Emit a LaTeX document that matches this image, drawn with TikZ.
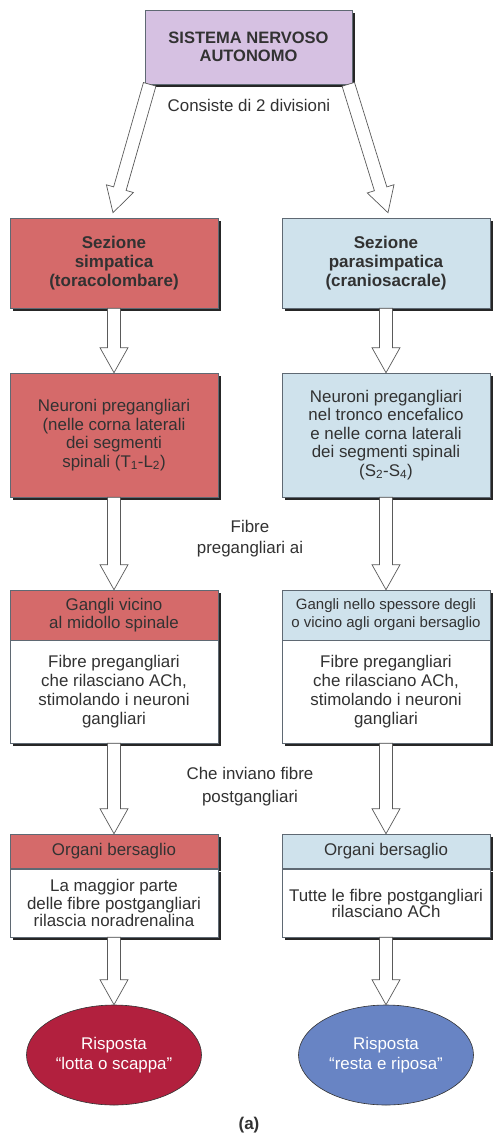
\documentclass[tikz,border=0pt]{standalone}
\usepackage{fontspec}
\setmainfont{Liberation Sans}
\usetikzlibrary{shapes.geometric,shadows,calc}
\definecolor{txt}{RGB}{50,50,50}
\definecolor{lav}{RGB}{214,193,226}
\definecolor{symp}{RGB}{213,106,106}
\definecolor{para}{RGB}{207,226,236}
\definecolor{rossoell}{RGB}{178,32,62}
\definecolor{bluell}{RGB}{104,132,196}
\definecolor{edge}{RGB}{95,105,115}
\definecolor{arredge}{RGB}{90,90,90}
\tikzset{
  basebox/.style={draw=edge, line width=0.6pt, rectangle, minimum width=208pt, inner sep=0pt,
    align=center, text=txt, font=\fontsize{16.9}{18.5}\selectfont,
    drop shadow={shadow xshift=3pt, shadow yshift=-3pt, fill=black!85, opacity=1}},
  topbox/.style={basebox, fill=lav, minimum width=207pt, minimum height=74pt,
    font=\bfseries\fontsize{16.5}{17.5}\selectfont},
  lbox/.style={basebox, fill=symp},
  rbox/.style={basebox, fill=para},
  wbox/.style={basebox, fill=white},
  boldtxt/.style={font=\bfseries\fontsize{17}{19}\selectfont},
  lbl/.style={align=center, text=txt, inner sep=0pt, font=\fontsize{16.9}{21}\selectfont},
  resp/.style={ellipse, draw=black!80, line width=0.6pt, minimum width=175pt, minimum height=100pt,
    align=center, text=white, inner sep=0pt, font=\fontsize{16.9}{20}\selectfont},
  arrline/.style={draw=arredge, line width=0.7pt, fill=white, line join=miter}
}
\newcommand\blockarr[2]{%
  \coordinate (hb) at ($(#2)!25pt!(#1)$);
  \draw[arrline] ($(#1)!6.5pt!90:(#2)$) -- ($(hb)!6.5pt!90:(#2)$) -- ($(hb)!14pt!90:(#2)$)
    -- (#2) -- ($(hb)!14pt!-90:(#2)$) -- ($(hb)!6.5pt!-90:(#2)$) -- ($(#1)!6.5pt!-90:(#2)$) -- cycle;
}
\begin{document}
\begin{tikzpicture}[x=1pt,y=-1pt]
\useasboundingbox (0,0) rectangle (495,1136);
\fill[white] (0,0) rectangle (495,1136);

% top
\node[topbox] (sna) at (248.5,47) {SISTEMA NERVOSO\\AUTONOMO};
\node[lbl] (cons) at (249,105) {Consiste di 2 divisioni};

% level 1
\node[lbox, minimum height=90pt, boldtxt] (ls) at (114,263) {Sezione\\simpatica\\(toracolombare)};
\node[rbox, minimum height=90pt, boldtxt] (rs) at (386,263) {Sezione\\parasimpatica\\(craniosacrale)};

% level 2
\node[lbox, minimum height=124pt] (ln) at (114,435) {Neuroni pregangliari\\(nelle corna laterali\\dei segmenti\\spinali (T\textsubscript{1}-L\textsubscript{2})};
\node[rbox, minimum height=124pt] (rn) at (386,435) {Neuroni pregangliari\\nel tronco encefalico\\e nelle corna laterali\\dei segmenti spinali\\(S\textsubscript{2}-S\textsubscript{4})};

\node[lbl] (fib) at (250,539) {Fibre\\pregangliari ai};

% level 3
\node[lbox, minimum height=50pt, font=\fontsize{16.9}{18}\selectfont] (lgh) at (114,615) {Gangli vicino\\al midollo spinale};
\node[rbox, minimum height=50pt, font=\fontsize{15}{18}\selectfont] (rgh) at (386,615) {Gangli nello spessore degli\\o vicino agli organi bersaglio};
\node[wbox, minimum height=103pt, font=\fontsize{16.9}{18.8}\selectfont] (lgb) at (114,691.5) {Fibre pregangliari\\che rilasciano ACh,\\stimolando i neuroni\\gangliari};
\node[wbox, minimum height=103pt, font=\fontsize{16.9}{18.8}\selectfont] (rgb) at (386,691.5) {Fibre pregangliari\\che rilasciano ACh,\\stimolando i neuroni\\gangliari};

\node[lbl, font=\fontsize{16.9}{23}\selectfont] (che) at (250,787) {Che inviano fibre\\postgangliari};

% level 4
\node[lbox, minimum height=34pt] (loh) at (114,851) {Organi bersaglio};
\node[rbox, minimum height=34pt] (roh) at (386,851) {Organi bersaglio};
\node[wbox, minimum height=68pt, font=\fontsize{16.9}{17.5}\selectfont] (lob) at (114,903) {La maggior parte\\delle fibre postgangliari\\rilascia noradrenalina};
\node[wbox, minimum height=68pt, font=\fontsize{16.9}{16}\selectfont] (rob) at (386,903) {Tutte le fibre postgangliari\\rilasciano ACh};

% responses
\node[resp, fill=rossoell] (lr) at (114,1055) {Risposta\\“lotta o scappa”};
\node[resp, fill=bluell] (rr) at (386,1055) {Risposta\\“resta e riposa”};

\node[text=txt, inner sep=0pt, font=\bfseries\fontsize{17}{19}\selectfont] (cap) at (249,1125) {(a)};

% arrows
\coordinate (d1s) at ($(sna.south west)+(5,0)$);
\coordinate (d1e) at ($(ls.north)+(-1,-5)$);
\coordinate (d2s) at ($(sna.south east)+(-4,0)$);
\coordinate (d2e) at ($(rs.north)+(2,-5)$);
\blockarr{d1s}{d1e}
\blockarr{d2s}{d2e}
\blockarr{ls.south}{ln.north}
\blockarr{rs.south}{rn.north}
\blockarr{ln.south}{lgh.north}
\blockarr{rn.south}{rgh.north}
\blockarr{lgb.south}{loh.north}
\blockarr{rgb.south}{roh.north}
\blockarr{lob.south}{lr.north}
\blockarr{rob.south}{rr.north}
\end{tikzpicture}
\end{document}
